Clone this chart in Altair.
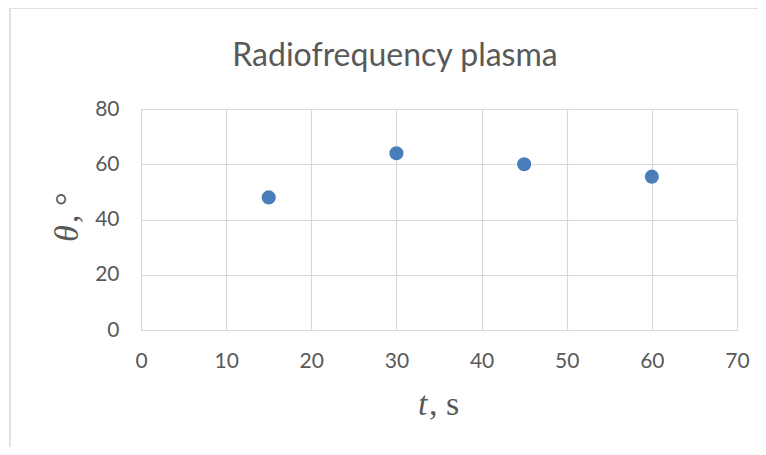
import altair as alt
import pandas as pd

# data
t_values = [15, 30, 45, 60]
theta_values = [48, 64, 60, 55.5]
x_ticks = [0, 10, 20, 30, 40, 50, 60, 70]
y_ticks = [0, 20, 40, 60, 80]
title_text = "Radiofrequency plasma"

df = pd.DataFrame({"t": t_values, "theta": theta_values})
one = pd.DataFrame({"a": [0]})

W, H = 596, 221
GREY = "#595959"

points = alt.Chart(df).mark_circle(size=200, color="#4a7ebb", opacity=1).encode(
    x=alt.X("t:Q", scale=alt.Scale(domain=[0, 70], nice=False),
            axis=alt.Axis(values=x_ticks, title=None, grid=True, domain=False, ticks=False,
                          tickSize=0, labelPadding=20, labelFontSize=21, labelFont="Lato",
                          labelFlush=False, labelOverlap=False,
                          labelColor=GREY, gridColor="#d9d9d9", gridWidth=1.2)),
    y=alt.Y("theta:Q", scale=alt.Scale(domain=[0, 80], nice=False),
            axis=alt.Axis(values=y_ticks, title=None, grid=True, domain=False, ticks=False,
                          tickSize=0, labelPadding=22, labelFontSize=21, labelFont="Lato",
                          labelFlush=False, labelOverlap=False,
                          labelColor=GREY, gridColor="#d9d9d9", gridWidth=1.2)),
)

border_top = alt.Chart(one).mark_rule(stroke="#d9d9d9", strokeWidth=1.5, clip=False).encode(
    x=alt.value(-131), x2=alt.value(700), y=alt.value(-101)
)
border_left = alt.Chart(one).mark_rule(stroke="#d9d9d9", strokeWidth=1.5, clip=False).encode(
    x=alt.value(-131), y=alt.value(-101), y2=alt.value(400)
)

title = alt.Chart(one).mark_text(text=title_text, font="Lato", fontSize=32, color=GREY,
                                 align="center", baseline="alphabetic").encode(
    x=alt.value(254), y=alt.value(-43)
)

xt1 = alt.Chart(one).mark_text(text="t", font="Liberation Serif", fontStyle="italic", fontSize=34,
                               color=GREY, align="left", baseline="alphabetic").encode(
    x=alt.value(277), y=alt.value(306)
)
xt2 = alt.Chart(one).mark_text(text=", s", font="Liberation Serif", fontSize=34,
                               color=GREY, align="left", baseline="alphabetic").encode(
    x=alt.value(288), y=alt.value(306)
)
yt1 = alt.Chart(one).mark_text(text="θ", font="Liberation Serif", fontStyle="italic", fontSize=34,
                               color=GREY, align="left", baseline="alphabetic", angle=270).encode(
    x=alt.value(-63), y=alt.value(133)
)
yt2 = alt.Chart(one).mark_text(text=", °", font="Liberation Serif", fontSize=34,
                               color=GREY, align="left", baseline="alphabetic", angle=270).encode(
    x=alt.value(-63), y=alt.value(114)
)

chart = alt.layer(border_top, border_left, points, title, xt1, xt2, yt1, yt2).properties(
    width=W, height=H,
    autosize=alt.AutoSizeParams(type="none"),
    padding={"left": 133, "top": 101, "right": 21, "bottom": 117},
).configure_view(stroke=None).configure(background="white")

chart.save("out.html", embed_options={"renderer": "svg", "actions": False})
